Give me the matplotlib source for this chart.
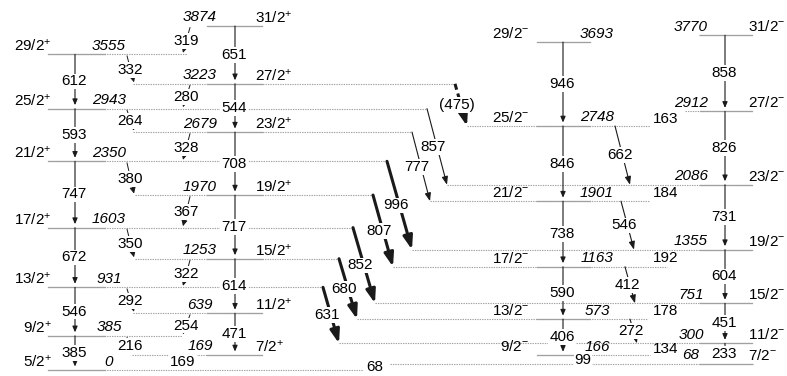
import matplotlib
matplotlib.use('Agg')
import matplotlib.pyplot as plt

plt.rcParams['font.family'] = ['Liberation Sans', 'DejaVu Sans']
plt.rcParams['mathtext.fontset'] = 'custom'
plt.rcParams['mathtext.rm'] = 'Liberation Sans'
plt.rcParams['mathtext.it'] = 'Liberation Sans:italic'
plt.rcParams['mathtext.bf'] = 'Liberation Sans:bold'

# ---------------- data (keV) ----------------
bandA_levels = [0, 385, 931, 1603, 2350, 2943, 3555]
bandA_spins = ['5/2', '9/2', '13/2', '17/2', '21/2', '25/2', '29/2']
bandA_gammas = ['385', '546', '672', '747', '593', '612']

bandB_levels = [169, 639, 1253, 1970, 2679, 3223, 3874]
bandB_spins = ['7/2', '11/2', '15/2', '19/2', '23/2', '27/2', '31/2']
bandB_gammas = ['471', '614', '717', '708', '544', '651']

bandC_levels = [166, 573, 1163, 1901, 2748, 3693]
bandC_spins = ['9/2', '13/2', '17/2', '21/2', '25/2', '29/2']
bandC_gammas = ['406', '590', '738', '846', '946']

bandD_levels = [68, 300, 751, 1355, 2086, 2912, 3770]
bandD_spins = ['7/2', '11/2', '15/2', '19/2', '23/2', '27/2', '31/2']
bandD_gammas = ['233', '451', '604', '731', '826', '858']

# A <-> B inter-band transitions
ab_gammas = ['216', '254', '292', '322', '350', '367', '380', '328', '264', '280', '332', '319']
ab_from = [385, 639, 931, 1253, 1603, 1970, 2350, 2679, 2943, 3223, 3555, 3874]
ab_to = [169, 385, 639, 931, 1253, 1603, 1970, 2350, 2679, 2943, 3223, 3555]

# positive -> negative parity transitions
pn_gammas = ['631', '680', '852', '807', '996', '777', '857', '(475)']
pn_from = [931, 1253, 1603, 1970, 2350, 2679, 2943, 3223]
pn_to = [300, 573, 751, 1163, 1355, 1901, 2086, 2748]
pn_kind = ['thick', 'thick', 'thick', 'thick', 'thick', 'thin', 'thin', 'dashed']

# C -> D transitions
cd_gammas = ['662', '546', '412', '272']
cd_from = [2748, 1901, 1163, 573]
cd_to = [2086, 1355, 751, 300]

# D -> C transitions (labels only)
dc_gammas = ['163', '184', '192', '178', '134']
dc_from = [2912, 2086, 1355, 751, 300]
dc_to = [2748, 1901, 1163, 573, 166]

# low-lying transitions (labels only)
low_gammas = ['169', '68', '99']
low_from = [169, 68, 166]
low_to = [0, 0, 68]

# ---------------- layout ----------------
PXK = 0.0888  # pixels per keV


def off(px):
    return px / PXK


fig = plt.figure(figsize=(7.87, 3.76), dpi=100)
ax = fig.add_axes([0, 0, 1, 1])
ax.set_xlim(0, 787)
ax.set_ylim(-6 / PXK, 370 / PXK)
ax.axis('off')

FS = 11
LVL = '#a0a0a0'
LINE = '#1a1a1a'
WB = dict(boxstyle='square,pad=0.06', fc='white', ec='none')

xA, xB, xC, xD = 75, 235, 563, 725
solidA, solidB, solidC, solidD = (48, 105), (207, 262), (537, 590), (700, 752)

extA = {0: (48, 363), 385: (48, 182), 931: (48, 323), 1603: (48, 353),
        2350: (48, 387), 2943: (48, 427), 3555: (48, 187)}
extB = {169: (132, 262), 639: (133, 262), 1253: (135, 339), 1970: (135, 373),
        2679: (133, 412), 3223: (133, 455), 3874: (207, 262)}
extC = {166: (537, 650), 573: (357, 647), 1163: (393, 667), 1901: (430, 650),
        2748: (467, 650), 3693: (537, 590)}
extD = {68: (390, 753), 300: (339, 752), 751: (375, 752), 1355: (412, 752),
        2086: (447, 752), 2912: (685, 752), 3770: (699, 752)}


def draw_level(E, solid, ext):
    ax.plot(ext, [E, E], color=LVL, lw=0.8, ls=(0, (1.2, 1.0)), zorder=1)
    ax.plot(solid, [E, E], color=LVL, lw=0.9, zorder=1)


def arrow(x0, E0, x1, E1, lw=0.8, ms=6, hl=0.6, hw=0.3, shrinkB=0, color=LINE):
    ax.annotate('', xy=(x1, E1), xytext=(x0, E0),
                arrowprops=dict(arrowstyle='-|>,head_length=%g,head_width=%g' % (hl, hw),
                                lw=lw, color=color, shrinkA=0, shrinkB=shrinkB,
                                mutation_scale=ms),
                zorder=2)


def glabel(x, E, s, ha='center'):
    ax.text(x, E, s, fontsize=FS, ha=ha, va='center', bbox=WB, zorder=3)


bands = [
    (bandA_levels, bandA_spins, bandA_gammas, xA, solidA, extA, '+', 52, 'right', 109),
    (bandB_levels, bandB_spins, bandB_gammas, xB, solidB, extB, '+', 255, 'left', 200),
    (bandC_levels, bandC_spins, bandC_gammas, xC, solidC, extC, '-', 529, 'right', 597),
    (bandD_levels, bandD_spins, bandD_gammas, xD, solidD, extD, '-', 748, 'left', 691),
]

for levels, spins, gammas, x0, solid, ext, par, xs, has, xe in bands:
    for E, s in zip(levels, spins):
        draw_level(E, solid, ext[E])
        ax.text(xs, E + off(8.5), s + '$^{%s}$' % par, fontsize=FS, ha=has, va='center', zorder=3)
        ax.text(xe, E + off(8.5), str(E), fontsize=FS, ha='center', va='center',
                style='italic', zorder=3)
    for i, g in enumerate(gammas):
        Elo, Ehi = levels[i], levels[i + 1]
        arrow(x0, Ehi, x0, Elo, lw=0.8, ms=5, hl=0.7, hw=0.3, shrinkB=2.5)
        glabel(x0 - 1, (Elo + Ehi) / 2, g)

# A <-> B
for g, Ef, Et in zip(ab_gammas, ab_from, ab_to):
    if Ef in bandA_levels:
        x0, x1 = 127, 134
    else:
        x0, x1 = 190, 183
    arrow(x0, Ef - off(1.5), x1, Et + off(1.5), lw=0.7, ms=5, hl=0.7, hw=0.35)
    glabel((x0 + x1) / 2, (Ef + Et) / 2 - off(1), g)

# positive -> negative
pn_x0 = [323, 339, 353, 373, 387, 412, 427, 455]
pn_x1 = [339, 357, 375, 393, 412, 430, 447, 467]
for g, Ef, Et, k, x0, x1 in zip(pn_gammas, pn_from, pn_to, pn_kind, pn_x0, pn_x1):
    if k == 'thick':
        arrow(x0, Ef, x1, Et, lw=2.2, ms=8, hl=1.0, hw=0.35)
    elif k == 'thin':
        arrow(x0, Ef, x1, Et, lw=0.8, ms=6, hl=0.8, hw=0.3)
    else:
        t = 0.8
        xm, Em = x0 + (x1 - x0) * t, Ef + (Et - Ef) * t
        ax.plot([x0, xm], [Ef, Em], color=LINE, lw=2.2, ls=(0, (2.0, 1.3)), zorder=2)
        arrow(xm, Em, x1, Et, lw=2.2, ms=8, hl=1.0, hw=0.35)
    glabel((x0 + x1) / 2 - 4, (Ef + Et) / 2, g)

# C -> D
cd_x0 = [615, 621, 625, 630]
cd_x1 = [630, 634, 635, 637]
for g, Ef, Et, x0, x1 in zip(cd_gammas, cd_from, cd_to, cd_x0, cd_x1):
    arrow(x0, Ef, x1, Et, lw=0.8, ms=6, hl=0.8, hw=0.3)
    glabel((x0 + x1) / 2 - 3, (Ef + Et) / 2, g)

# D -> C labels
for g, Ef, Et in zip(dc_gammas, dc_from, dc_to):
    ax.text(666, (Ef + Et) / 2, g, fontsize=FS, ha='center', va='center', zorder=3)

# low-lying labels
low_x = [183, 375, 583]
for g, Ef, Et, x in zip(low_gammas, low_from, low_to, low_x):
    glabel(x, (Ef + Et) / 2, g)

fig.savefig('out.png', dpi=100)
